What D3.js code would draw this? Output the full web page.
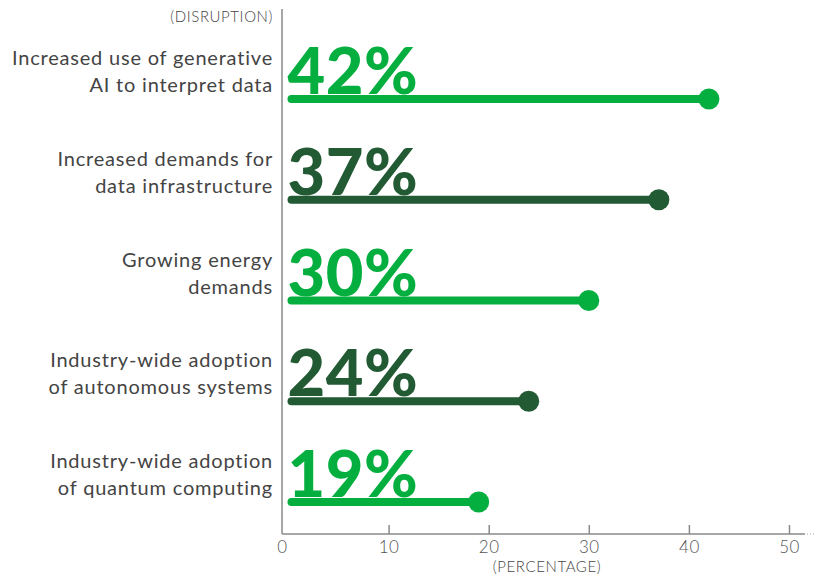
<!DOCTYPE html>
<html>
<head>
<meta charset="utf-8">
<script src="https://cdn.jsdelivr.net/npm/d3@7"></script>
<style>
  html, body { margin: 0; padding: 0; background: #ffffff; }
  svg { display: block; }
</style>
</head>
<body>
<svg id="chart" width="814" height="576"></svg>
<script>
// Survey answers: which shifts will cause the most disruption
const categories = [
  "Increased use of generative AI to interpret data",
  "Increased demands for data infrastructure",
  "Growing energy demands",
  "Industry-wide adoption of autonomous systems",
  "Industry-wide adoption of quantum computing"
];
const labelLines = [
  ["Increased use of generative", "AI to interpret data"],
  ["Increased demands for", "data infrastructure"],
  ["Growing energy", "demands"],
  ["Industry-wide adoption", "of autonomous systems"],
  ["Industry-wide adoption", "of quantum computing"]
];
const values = [42, 37, 30, 24, 19];
const xTicks = [0, 10, 20, 30, 40, 50];

const BRIGHT = "#04AE3F";
const DARK = "#225A34";
const colors = [BRIGHT, DARK, BRIGHT, DARK, BRIGHT];

const FONT = "Lato, 'Open Sans', sans-serif";

const svg = d3.select("#chart");

const x = d3.scaleLinear().domain([0, 50]).range([288.5, 789]);
const y = d3.scalePoint().domain(categories).range([99, 502]);

const axisX = 282;     // vertical rule position
const axisY = 534;     // baseline of the value axis

// vertical rule separating labels from the plot
svg.append("line")
  .attr("x1", axisX).attr("x2", axisX)
  .attr("y1", 9).attr("y2", axisY)
  .attr("stroke", "#8a8a8a").attr("stroke-width", 1.5);

// horizontal axis line, with a dotted continuation
svg.append("line")
  .attr("x1", axisX).attr("x2", 805)
  .attr("y1", axisY).attr("y2", axisY)
  .attr("stroke", "#8a8a8a").attr("stroke-width", 1.5);
svg.append("line")
  .attr("x1", 807).attr("x2", 814)
  .attr("y1", axisY).attr("y2", axisY)
  .attr("stroke", "#aaaaaa").attr("stroke-width", 1)
  .attr("stroke-dasharray", "1,2");

const axis = d3.axisBottom(x)
  .tickValues(xTicks)
  .tickFormat(d3.format("d"))
  .tickSizeInner(-9)
  .tickSizeOuter(0)
  .tickPadding(7);

const gAxis = svg.append("g")
  .attr("transform", `translate(0,${axisY})`)
  .call(axis);
gAxis.select(".domain").remove();
gAxis.selectAll(".tick line").attr("stroke", "#8a8a8a").attr("stroke-width", 1.5);
gAxis.selectAll(".tick text")
  .attr("fill", "#555")
  .style("font-family", FONT)
  .style("font-size", "17px")
  .style("font-weight", 300)
  .style("letter-spacing", "0.5px");
// zero sits on the vertical rule
gAxis.selectAll(".tick").filter(d => d === 0).select("line").remove();
gAxis.selectAll(".tick").filter(d => d === 0).select("text").attr("x", axisX - x(0));

// axis titles
svg.append("text")
  .attr("x", 273).attr("y", 22)
  .attr("text-anchor", "end")
  .attr("fill", "#444")
  .style("font-family", FONT)
  .style("font-size", "15px")
  .style("font-weight", 300)
  .style("letter-spacing", "0.6px")
  .text("(DISRUPTION)");

svg.append("text")
  .attr("x", 547).attr("y", 572)
  .attr("text-anchor", "middle")
  .attr("fill", "#444")
  .style("font-family", FONT)
  .style("font-size", "15px")
  .style("font-weight", 300)
  .style("letter-spacing", "0.6px")
  .text("(PERCENTAGE)");

const rows = svg.append("g").selectAll("g")
  .data(categories.map((c, i) => ({ cat: c, value: values[i], lines: labelLines[i], color: colors[i] })))
  .join("g");

// category labels, two lines, right aligned
rows.append("text")
  .attr("text-anchor", "end")
  .attr("fill", "#444")
  .style("font-family", FONT)
  .style("font-size", "20px")
  .style("font-weight", 400)
  .style("letter-spacing", "0.8px")
  .selectAll("tspan")
  .data(d => d.lines.map((t, j) => ({ t, j, yy: y(d.cat) })))
  .join("tspan")
  .attr("x", 273)
  .attr("y", d => d.yy - 34 + d.j * 27)
  .text(d => d.t);

// lollipop stems (round cap tucked inside the zero line)
rows.append("line")
  .attr("x1", x(0) + 3).attr("x2", d => x(d.value))
  .attr("y1", d => y(d.cat)).attr("y2", d => y(d.cat))
  .attr("stroke", d => d.color)
  .attr("stroke-width", 8)
  .attr("stroke-linecap", "round");

// end dots
rows.append("circle")
  .attr("cx", d => x(d.value))
  .attr("cy", d => y(d.cat))
  .attr("r", 10.5)
  .attr("fill", d => d.color);

// large value labels resting on the stems
rows.append("text")
  .attr("x", x(0) - 1)
  .attr("y", d => y(d.cat) - 5)
  .attr("fill", d => d.color)
  .style("font-family", FONT)
  .style("font-size", "65px")
  .style("font-weight", 900)
  .style("letter-spacing", "0.5px")
  .text(d => d.value + "%");
</script>
</body>
</html>
